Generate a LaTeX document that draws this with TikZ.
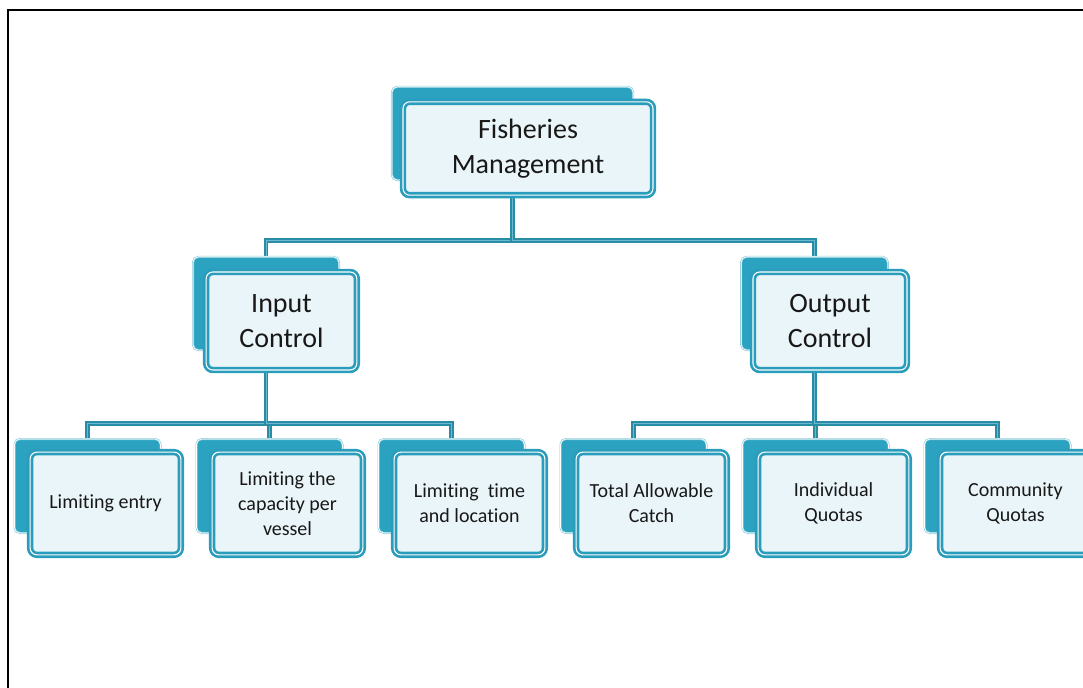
\documentclass[tikz,border=0pt]{standalone}
\usepackage{fontspec}
\setmainfont[Ligatures=NoCommon]{Carlito}
\usetikzlibrary{backgrounds,positioning}

\definecolor{backteal}{HTML}{2BA3C0}
\definecolor{rimteal}{HTML}{2A9DBC}
\definecolor{paleblue}{HTML}{EAF5F9}
\definecolor{linkteal}{HTML}{2A8BA7}
\definecolor{linklight}{HTML}{6BB9CF}
\definecolor{inkgray}{HTML}{181818}

\begin{document}
\begin{tikzpicture}[x=0.75pt,y=-0.75pt,
    back/.style={rectangle, rounded corners=4pt, fill=backteal, draw=backteal!55,
      double=white, line width=0.5pt, double distance=0.5pt,
      minimum width=109.5pt, minimum height=70.5pt, inner sep=0pt},
    front/.style={rectangle, rounded corners=5pt, fill=paleblue, draw=rimteal,
      double=white, line width=2pt, double distance=0.8pt,
      minimum width=113pt, minimum height=77pt, inner sep=0pt,
      align=center, text=inkgray, font=\fontsize{15}{18.75}\selectfont},
    headtext/.style={font=\fontsize{21}{26.5}\selectfont},
    link/.style={draw=linkteal, double=linklight, line width=1.6pt,
      double distance=0.4pt},
    node distance=136.5pt]
  \useasboundingbox (0,0) rectangle (1083,688);
  \draw[line width=1.5pt] (8,688) -- (8,10) -- (1083,10);

  % top level
  \node[back, minimum width=181pt, minimum height=70pt] (fmback) at (512.5,133.5) {};
  \node[front, headtext, minimum width=187.5pt, minimum height=70pt] (fm)
    at ([shift={(15.5,15)}]fmback) {Fisheries\\Management};

  % second level
  \node[back, minimum width=109.5pt, minimum height=70pt] (icback) at (266,303.5) {};
  \node[front, headtext, minimum height=73.5pt] (ic)
    at ([shift={(15.5,17.5)}]icback) {Input\\Control};
  \node[back, minimum width=110pt, minimum height=70pt] (ocback) at (814.5,303.5) {};
  \node[front, headtext, minimum width=115.5pt, minimum height=73.5pt] (oc)
    at ([shift={(15.5,17.5)}]ocback) {Output\\Control};

  % third level
  \node[back] (leback) at (87.5,486) {};
  \node[back] (lcback) [right of=leback] {};
  \node[back] (ltback) [right of=lcback] {};
  \node[back] (taback) [right of=ltback] {};
  \node[back] (iqback) [right of=taback] {};
  \node[back] (cqback) [right of=iqback] {};
  \node[front] (le) at ([shift={(18,17.5)}]leback) {Limiting entry};
  \node[front] (lc) at ([shift={(18,17.5)}]lcback) {Limiting the\\capacity per\\vessel};
  \node[front] (lt) at ([shift={(18,17.5)}]ltback) {Limiting\ \ time\\and location};
  \node[front] (ta) at ([shift={(18,17.5)}]taback) {Total Allowable\\Catch};
  \node[front] (iq) at ([shift={(18,17.5)}]iqback) {Individual\\Quotas};
  \node[front] (cq) at ([shift={(18,17.5)}]cqback) {Community\\Quotas};

  \begin{scope}[on background layer]
    \draw[link] (fmback.south) -- ++(0,60) -| (icback.north);
    \draw[link] (fmback.south) -- ++(0,60) -| (ocback.north);
    \draw[link] (icback.south) -- ++(0,73) -| (leback.north);
    \draw[link] (icback.south) -- ++(0,73) -| (lcback.north);
    \draw[link] (icback.south) -- ++(0,73) -| (ltback.north);
    \draw[link] (ocback.south) -- ++(0,73) -| (taback.north);
    \draw[link] (ocback.south) -- ++(0,73) -| (iqback.north);
    \draw[link] (ocback.south) -- ++(0,73) -| (cqback.north);
  \end{scope}
\end{tikzpicture}
\end{document}
